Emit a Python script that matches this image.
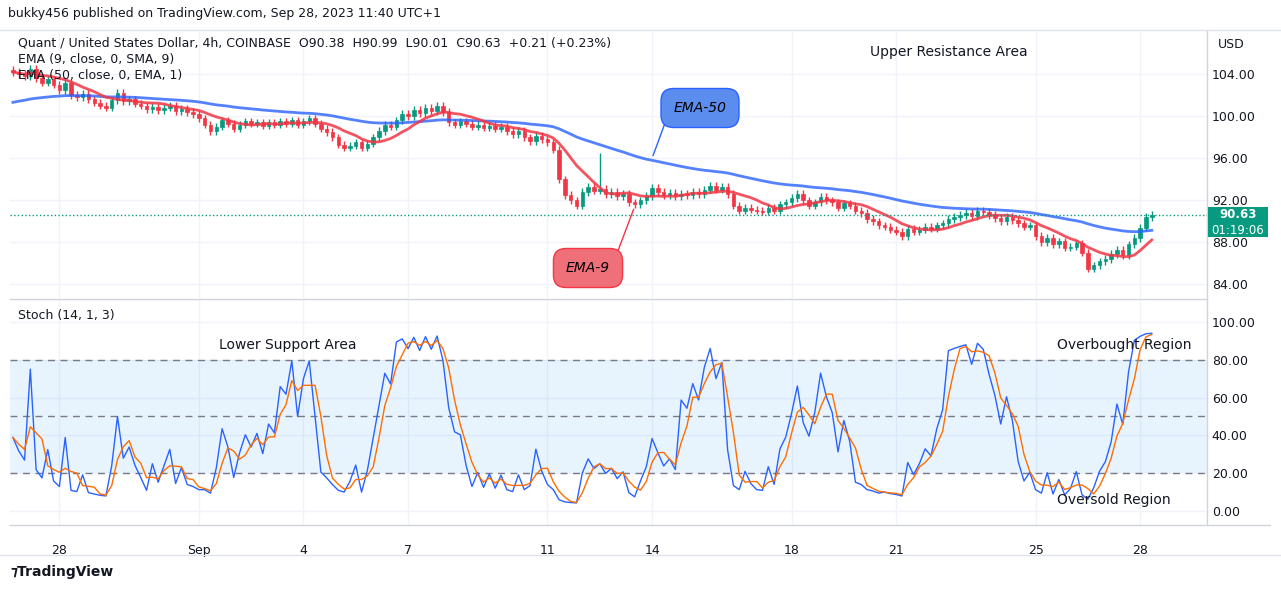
import numpy as np, pandas as pd, seaborn as sns
import matplotlib
matplotlib.use("Agg")
import matplotlib.pyplot as plt
import matplotlib.dates as mdates

closes = [104.2, 104.0,
 103.8,104.5,103.6,103.2,103.5,103.0,
 102.5,103.2,102.0,101.8,102.1,101.6,
 101.3,101.0,100.8,101.5,102.2,101.4,
 101.6,101.2,101.0,100.7,100.9,100.6,
 100.8,101.0,100.5,100.7,100.4,100.2,
 99.8,99.2,98.6,99.0,99.6,99.3,
 98.8,99.2,99.5,99.3,99.4,99.1,
 99.4,99.2,99.5,99.3,99.6,99.2,
 99.5,99.8,99.3,98.8,98.5,98.0,
 97.3,97.0,97.2,97.5,97.0,97.4,
 98.0,98.6,99.2,99.0,99.6,100.2,
 100.0,100.6,100.3,100.8,100.5,101.0,
 100.4,99.4,99.2,99.5,99.3,99.0,
 99.2,98.9,99.1,98.8,99.0,98.6,
 98.3,98.6,98.0,97.6,98.1,97.8,
 97.5,96.8,94.0,92.5,92.0,91.5,
 92.8,93.3,92.9,93.1,92.6,92.8,
 92.4,92.6,91.8,91.6,92.0,92.4,
 93.2,92.8,92.5,92.7,92.4,92.6,
 92.5,92.8,92.6,93.0,93.4,93.0,
 93.3,92.6,91.5,91.0,91.3,91.1,
 91.0,90.9,91.3,91.0,91.6,91.8,
 92.2,92.6,92.0,91.5,91.8,92.3,
 92.0,91.8,91.3,91.7,91.5,91.0,
 90.8,90.2,90.0,89.6,89.5,89.2,
 89.0,88.6,89.3,89.0,89.2,89.5,
 89.3,89.6,89.8,90.2,90.4,90.6,
 90.8,90.5,91.0,90.9,90.6,90.3,
 90.0,90.4,90.1,89.8,89.5,89.6,
 88.6,88.0,88.4,87.8,88.1,87.5,
 87.6,87.9,87.0,85.5,85.8,86.2,
 86.4,86.9,87.3,86.8,87.8,88.4,
 89.4,90.4,90.63]
ema50_seed = 101.2   # EMA value carried from earlier history
wick = 0.35
spike_highs = {101: 96.5}
start = "2023-08-26 16:00"
date_ticks = ["2023-08-28","2023-09-01","2023-09-04","2023-09-07","2023-09-11","2023-09-14",
              "2023-09-18","2023-09-21","2023-09-25","2023-09-28"]
date_labels = ["28","Sep","4","7","11","14","18","21","25","28"]
price_ticks = [84,88,92,96,100,104]
stoch_ticks = [0,20,40,60,80,100]

df = pd.DataFrame({"t": pd.date_range(start, periods=len(closes), freq="4h"), "close": closes})
df["open"] = df["close"].shift(1).fillna(df["close"].iloc[0] + 0.2)
df["high"] = df[["open","close"]].max(axis=1) + wick
df["low"] = df[["open","close"]].min(axis=1) - wick
for i, v in spike_highs.items(): df.loc[i, "high"] = v
s = pd.concat([pd.Series([ema50_seed]), df["close"]], ignore_index=True)
df["ema50"] = s.ewm(span=50, adjust=False).mean().iloc[1:].values
df["sma9"] = df["close"].rolling(9, min_periods=1).mean()
hh = df["high"].rolling(14, min_periods=1).max(); ll = df["low"].rolling(14, min_periods=1).min()
df["k"] = 100 * (df["close"] - ll) / (hh - ll)
df["d"] = df["k"].rolling(3, min_periods=1).mean()
df["x"] = mdates.date2num(df["t"])

W, H = 1281, 589
fig = plt.figure(figsize=(W/100, H/100), dpi=100)
def ax_at(l, t, r, b): return fig.add_axes([l/W, 1-b/H, (r-l)/W, (b-t)/H])
ax1 = ax_at(10, 30, 1207, 298)
ax2 = ax_at(10, 300, 1207, 525)
x0 = mdates.date2num(pd.Timestamp("2023-08-26 14:00")); x1 = mdates.date2num(pd.Timestamp("2023-09-29 22:00"))
grid = "#f0f3fa"
up, dn = "#089981", "#f23645"
for ax in (ax1, ax2):
    ax.set_xlim(x0, x1)
    for sp in ax.spines.values(): sp.set_visible(False)
    ax.yaxis.tick_right()
    ax.tick_params(length=0, labelsize=9, colors="#131722")
    ax.set_xticks(mdates.date2num(pd.to_datetime(date_ticks)))
    ax.grid(True, color=grid, lw=1)
    ax.set_axisbelow(True)
ax1.set_xticklabels([])
ax2.set_xticklabels(date_labels)
ax2.tick_params(axis="x", pad=14)
ax1.set_ylim(82.7, 108.2); ax1.set_yticks(price_ticks)
ax1.set_yticklabels([f"{v:.2f}" for v in price_ticks])
ax2.set_ylim(-7.4, 111.6); ax2.set_yticks(stoch_ticks)
ax2.set_yticklabels([f"{v:.2f}" for v in stoch_ticks])

cw = 4/24*0.6
cols = np.where(df["close"] >= df["open"], up, dn)
ax1.vlines(df["x"], df["low"], df["high"], colors=cols, lw=1)
ax1.bar(df["x"], (df["close"]-df["open"]).abs().clip(lower=0.08), bottom=df[["open","close"]].min(axis=1),
        width=cw, color=cols, edgecolor=cols, lw=0.5)
sns.lineplot(data=df, x="x", y="ema50", ax=ax1, color="#2962ff", lw=2, alpha=0.8)
sns.lineplot(data=df, x="x", y="sma9", ax=ax1, color="#f23645", lw=2, alpha=0.85)
ax1.axhline(closes[-1], color="#089981", ls=":", lw=1)
ax1.set_xlabel(""); ax1.set_ylabel("")

ax2.axhspan(20, 80, color="#2196f3", alpha=0.1, lw=0)
for v in (80, 50, 20): ax2.axhline(v, color="#787b86", ls=(0,(5,4)), lw=1)
sns.lineplot(data=df, x="x", y="k", ax=ax2, color="#2962ff", lw=1)
sns.lineplot(data=df, x="x", y="d", ax=ax2, color="#ff6d00", lw=1)
ax2.set_xlabel(""); ax2.set_ylabel("")

fig.add_artist(plt.Line2D([10/W, 1207/W], [1-299/H]*2, color="#d1d4dc", lw=1))
fig.add_artist(plt.Line2D([1207/W]*2, [1-30/H, 1-525/H], color="#d1d4dc", lw=1))
fig.add_artist(plt.Line2D([10/W, 1270/W], [1-525/H]*2, color="#d1d4dc", lw=1))
fig.add_artist(plt.Line2D([0, 1], [1-30/H]*2, color="#e0e3eb", lw=1))
fig.add_artist(plt.Line2D([0, 1], [1-555/H]*2, color="#e0e3eb", lw=1))

def T(x, y, s, **k): fig.text(x/W, 1-y/H, s, fontsize=k.pop("fs", 9), color=k.pop("c", "#131722"), va="center", **k)
T(8, 14, "bukky456 published on TradingView.com, Sep 28, 2023 11:40 UTC+1")
T(18, 43, "Quant / United States Dollar, 4h, COINBASE  O90.38  H90.99  L90.01  C90.63  +0.21 (+0.23%)")
T(18, 59, "EMA (9, close, 0, SMA, 9)")
T(18, 75, "EMA (50, close, 0, EMA, 1)")
T(18, 315, "Stoch (14, 1, 3)")
T(1218, 45, "USD")
T(870, 52, "Upper Resistance Area", fs=10)
T(219, 345, "Lower Support Area", fs=10)
T(1057, 345, "Overbought Region", fs=10)
T(1057, 500, "Oversold Region", fs=10)
T(10, 572, "⁊TradingView", fs=10, weight="bold")
fig.patches.append(plt.Rectangle((1208/W, 1-237/H), 60/W, 30/H, transform=fig.transFigure, fc="#089981", ec="none", zorder=5))
fig.text(1238/W, 1-215/H, "90.63", fontsize=8.5, color="white", ha="center", va="center", weight="bold", zorder=6)
fig.text(1238/W, 1-230/H, "01:19:06", fontsize=8.5, color="white", ha="center", va="center", zorder=6)

ax1.annotate("", xy=(mdates.date2num(pd.Timestamp("2023-09-14")), 96.0),
             xytext=(mdates.date2num(pd.Timestamp("2023-09-14 12:00")), 100.5),
             arrowprops=dict(arrowstyle="-", color="#2962ff", lw=1))
ax1.annotate("", xy=(mdates.date2num(pd.Timestamp("2023-09-13 12:00")), 91.4),
             xytext=(mdates.date2num(pd.Timestamp("2023-09-13")), 87.0),
             arrowprops=dict(arrowstyle="-", color="#f23645", lw=1))
fig.text(700/W, 1-108/H, "EMA-50", fontsize=10, style="italic", ha="center", va="center",
         bbox=dict(boxstyle="round,pad=0.9", fc="#5b8def", ec="#2962ff"))
fig.text(588/W, 1-268/H, "EMA-9", fontsize=10, style="italic", ha="center", va="center",
         bbox=dict(boxstyle="round,pad=0.9", fc="#f0707a", ec="#f23645"))
fig.savefig("out.png", dpi=100)
